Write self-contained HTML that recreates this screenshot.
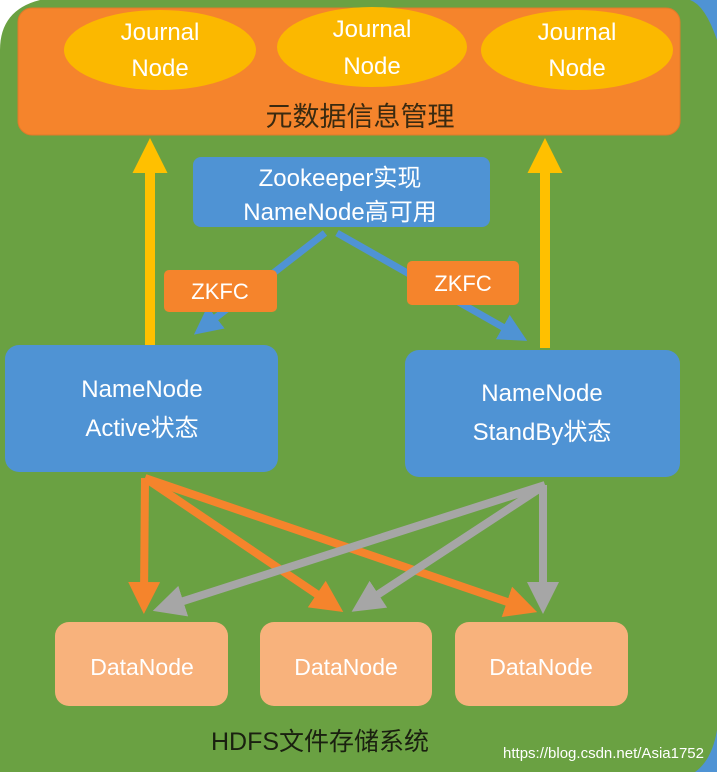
<!DOCTYPE html>
<html><head><meta charset="utf-8"><style>
body{margin:0;width:717px;height:772px;overflow:hidden;background:#fff}
svg{display:block}
text{font-family:"Liberation Sans","Noto Sans CJK SC",sans-serif}
</style></head><body>
<svg width="717" height="772" viewBox="0 0 717 772">
<defs>
<marker id="ao" markerWidth="4" markerHeight="4" refX="2" refY="2" orient="auto" markerUnits="strokeWidth"><path d="M0,0 L4,2 L0,4 z" fill="#f5842c"/></marker>
<marker id="ag" markerWidth="4" markerHeight="4" refX="2" refY="2" orient="auto" markerUnits="strokeWidth"><path d="M0,0 L4,2 L0,4 z" fill="#a6a6a6"/></marker>
<marker id="ab" markerWidth="4" markerHeight="4" refX="2" refY="2" orient="auto" markerUnits="strokeWidth"><path d="M0,0 L4,2 L0,4 z" fill="#4f93d4"/></marker>
<marker id="ay" markerWidth="3.5" markerHeight="3.5" refX="1.5" refY="1.75" orient="auto" markerUnits="strokeWidth"><path d="M0,0 L3.5,1.75 L0,3.5 z" fill="#ffc000"/></marker>
</defs>
<rect x="0" y="0" width="717" height="772" fill="#6aa142"/>
<path d="M0,0 H40 Q0,10 0,50 Z" fill="#fff"/>
<path d="M690,0 H717 V40 Q705,5 690,0 Z" fill="#4f93d4"/>
<path d="M717,730 V772 H695 Q712,760 717,730 Z" fill="#4f93d4"/>
<rect x="18" y="8" width="662" height="127" rx="14" fill="#f5842c" stroke="#e07a2a"/>
<ellipse cx="160" cy="50" rx="96" ry="40" fill="#fbb800"/>
<ellipse cx="372" cy="47" rx="95" ry="40" fill="#fbb800"/>
<ellipse cx="577" cy="50" rx="96" ry="40" fill="#fbb800"/>
<g fill="#fff" font-size="24" text-anchor="middle">
<text x="160" y="40">Journal</text><text x="160" y="76">Node</text>
<text x="372" y="37">Journal</text><text x="372" y="74">Node</text>
<text x="577" y="40">Journal</text><text x="577" y="76">Node</text>
</g>
<text x="360" y="126" font-size="27" fill="#3a2a10" text-anchor="middle" font-family="Noto Serif CJK SC,serif">元数据信息管理</text>
<line x1="150" y1="345" x2="150" y2="158" stroke="#ffc000" stroke-width="10" marker-end="url(#ay)"/>
<line x1="545" y1="348" x2="545" y2="158" stroke="#ffc000" stroke-width="10" marker-end="url(#ay)"/>
<rect x="193" y="157" width="297" height="70" rx="8" fill="#4f93d4"/>
<text x="340" y="186" font-size="24" fill="#fff" text-anchor="middle">Zookeeper实现</text>
<text x="340" y="220" font-size="24" fill="#fff" text-anchor="middle">NameNode高可用</text>
<line x1="325" y1="233" x2="205" y2="326" stroke="#4f93d4" stroke-width="7" marker-end="url(#ab)"/>
<line x1="337" y1="233" x2="515" y2="334" stroke="#4f93d4" stroke-width="7" marker-end="url(#ab)"/>
<rect x="164" y="270" width="113" height="42" rx="5" fill="#f5842c"/>
<text x="220" y="299" font-size="22" fill="#fff" text-anchor="middle">ZKFC</text>
<rect x="407" y="261" width="112" height="44" rx="5" fill="#f5842c"/>
<text x="463" y="291" font-size="22" fill="#fff" text-anchor="middle">ZKFC</text>
<rect x="5" y="345" width="273" height="127" rx="14" fill="#4f93d4"/>
<text x="142" y="397" font-size="24" fill="#fff" text-anchor="middle">NameNode</text>
<text x="142" y="436" font-size="24" fill="#fff" text-anchor="middle">Active状态</text>
<rect x="405" y="350" width="275" height="127" rx="14" fill="#4f93d4"/>
<text x="542" y="401" font-size="24" fill="#fff" text-anchor="middle">NameNode</text>
<text x="542" y="440" font-size="24" fill="#fff" text-anchor="middle">StandBy状态</text>
<g stroke-width="8" fill="none">
<line x1="145" y1="478" x2="144" y2="598" stroke="#f5842c" marker-end="url(#ao)"/>
<line x1="145" y1="478" x2="330" y2="603" stroke="#f5842c" marker-end="url(#ao)"/>
<line x1="145" y1="478" x2="522" y2="607" stroke="#f5842c" marker-end="url(#ao)"/>
<line x1="545" y1="485" x2="168" y2="606" stroke="#a6a6a6" marker-end="url(#ag)"/>
<line x1="545" y1="485" x2="365" y2="603" stroke="#a6a6a6" marker-end="url(#ag)"/>
<line x1="543" y1="485" x2="543" y2="598" stroke="#a6a6a6" marker-end="url(#ag)"/>
</g>
<rect x="55" y="622" width="173" height="84" rx="14" fill="#f8b27c"/>
<rect x="260" y="622" width="172" height="84" rx="14" fill="#f8b27c"/>
<rect x="455" y="622" width="173" height="84" rx="14" fill="#f8b27c"/>
<g fill="#fff" font-size="23" text-anchor="middle">
<text x="142" y="675">DataNode</text><text x="346" y="675">DataNode</text><text x="541" y="675">DataNode</text>
</g>
<text x="320" y="750" font-size="25" fill="#1a2010" text-anchor="middle">HDFS文件存储系统</text>
<text x="704" y="758" font-size="15" fill="#fff" text-anchor="end">https://blog.csdn.net/Asia1752</text>
</svg>
</body></html>
